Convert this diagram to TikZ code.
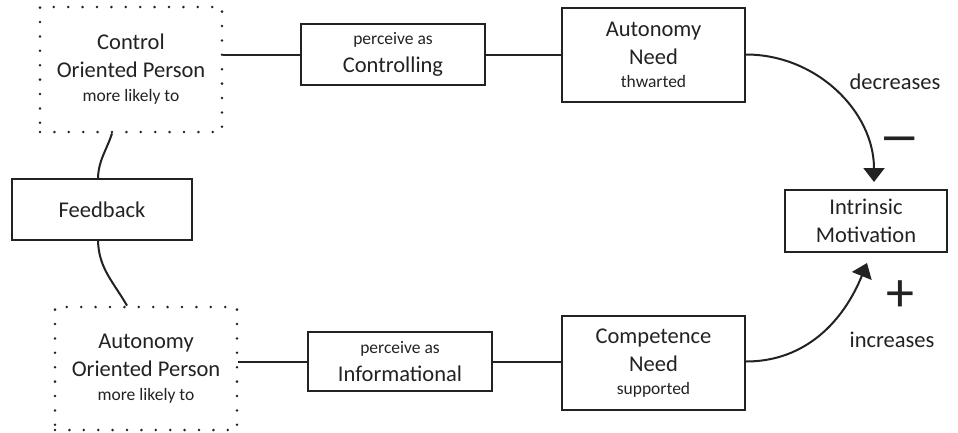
\documentclass[tikz,border=0pt]{standalone}
\usepackage{fontspec}
\setmainfont{Carlito}
\usetikzlibrary{arrows.meta}
\definecolor{ink}{HTML}{222222}
\newcommand{\bigtxt}{\fontsize{22.5}{28}\selectfont}
\newcommand{\smltxt}{\fontsize{17.5}{22}\selectfont}
\tikzset{
  box/.style={draw=ink, line width=2pt, align=center, inner sep=0pt, text=ink, font=\bigtxt},
  dotbox/.style={draw=ink, line width=2.8pt, line cap=round, dash pattern=on 0pt off 14.4pt, align=center, inner sep=0pt, text=ink, font=\bigtxt},
  conn/.style={draw=ink, line width=2pt},
  arr/.style={draw=ink, line width=2pt, -{Triangle[width=21pt,length=14pt]}},
  lbl/.style={text=ink, inner sep=0pt, font=\bigtxt},
}
\begin{document}
\begin{tikzpicture}[x=1pt,y=-1pt]
\useasboundingbox (0,0) rectangle (958,432);
\node[dotbox, minimum width=182pt, minimum height=125pt] (ctrl) at (131,69.5)
  {Control\\Oriented Person\\[-4pt]{\smltxt more likely to}};
\node[box, minimum width=184pt, minimum height=61pt] (perc1) at (393,54.5)
  {{\smltxt perceive as}\\Controlling};
\node[box, minimum width=183pt, minimum height=94pt] (aut) at (653.5,55)
  {Autonomy\\Need\\[-5pt]{\smltxt thwarted}};
\node[box, minimum width=180pt, minimum height=61pt] (fb) at (102,209.5)
  {Feedback};
\node[box, minimum width=162pt, minimum height=62pt] (im) at (866,221)
  {Intrinsic\\Motivation};
\node[dotbox, minimum width=182pt, minimum height=123pt] (auto) at (146,368.5)
  {Autonomy\\Oriented Person\\[-4pt]{\smltxt more likely to}};
\node[box, minimum width=184pt, minimum height=59pt] (perc2) at (400,361.5)
  {{\smltxt perceive as}\\Informational};
\node[box, minimum width=183pt, minimum height=94pt] (comp) at (653.5,363)
  {Competence\\Need\\[-5pt]{\smltxt supported}};

\draw[conn] (ctrl.east |- perc1.west) -- (perc1.west);
\draw[conn] (perc1.east) -- (perc1.east -| aut.west);
\draw[conn] (auto.east |- perc2.west) -- (perc2.west);
\draw[conn] (perc2.east) -- (perc2.east -| comp.west);
\draw[conn] ([xshift=-19pt]ctrl.south) to[out=-108,in=88] ([xshift=-4pt]fb.north);
\draw[conn] ([xshift=-4pt]fb.south) to[out=-88,in=120] ([xshift=-19pt]auto.north);

\coordinate (dtip) at ([xshift=8pt,yshift=7pt]im.north);
\coordinate (itip) at ([xshift=1pt,yshift=-10pt]im.south);
\draw[arr] (aut.east |- perc1.east) to[out=0,in=90] (dtip);
\draw[arr] (comp.east |- perc2.east) to[out=0,in=-112] (itip);

\node[lbl] (dec) at (895,82) {decreases};
\node[lbl, font=\fontsize{56}{56}\selectfont, xscale=1.45] (minus) at (900,147) {−};
\node[lbl, font=\fontsize{56}{56}\selectfont] (plus) at (900,296) {+};
\node[lbl] (inc) at (892,340) {increases};
\end{tikzpicture}
\end{document}
